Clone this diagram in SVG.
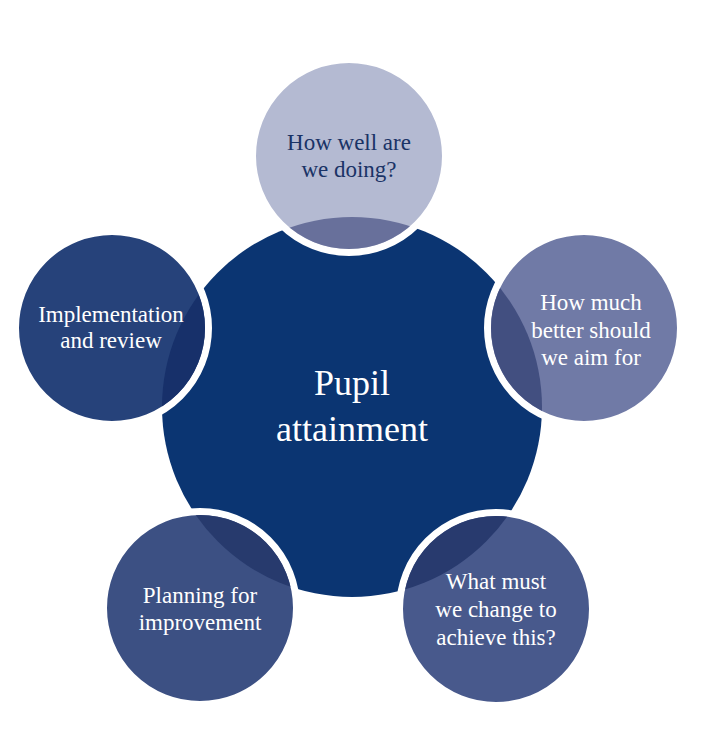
<svg xmlns="http://www.w3.org/2000/svg" width="702" height="746" viewBox="0 0 702 746">
<defs>
<style>
.ring{stroke:#ffffff;stroke-width:7}
.t{font-family:"Liberation Serif","Times New Roman",serif;font-size:23px;text-anchor:middle;fill:#ffffff}
.tc{font-family:"Liberation Serif","Times New Roman",serif;font-size:36px;text-anchor:middle;fill:#ffffff}
</style>
<clipPath id="cTop"><circle cx="349" cy="156" r="93"/></clipPath>
<clipPath id="cRight"><circle cx="584" cy="328" r="93"/></clipPath>
<clipPath id="cBR"><circle cx="496" cy="609" r="93"/></clipPath>
<clipPath id="cBL"><circle cx="200" cy="608" r="93"/></clipPath>
<clipPath id="cLeft"><circle cx="112" cy="328" r="93"/></clipPath>
</defs>
<rect width="702" height="746" fill="#ffffff"/>
<g id="center">
<circle cx="352" cy="407" r="190" fill="#0b3572"/>
<text class="tc" x="352" y="395">Pupil</text>
<text class="tc" x="352" y="441">attainment</text>
</g>
<g id="connectors"></g>
<g id="node-top">
<circle class="ring" cx="349" cy="156" r="96.5" fill="#b4bad2"/>
<circle cx="352" cy="407" r="190" fill="#68709b" clip-path="url(#cTop)"/>
<text class="t" x="349" y="150" style="fill:#1a3366">How well are</text>
<text class="t" x="349" y="177" style="fill:#1a3366">we doing?</text>
</g>
<g id="node-right">
<circle class="ring" cx="584" cy="328" r="96.5" fill="#707aa6"/>
<circle cx="352" cy="407" r="190" fill="#424f80" clip-path="url(#cRight)"/>
<text class="t" x="591" y="310">How much</text>
<text class="t" x="591" y="338">better should</text>
<text class="t" x="591" y="365">we aim for</text>
</g>
<g id="node-bottom-right">
<circle class="ring" cx="496" cy="609" r="96.5" fill="#48598c"/>
<circle cx="352" cy="407" r="190" fill="#283a6e" clip-path="url(#cBR)"/>
<text class="t" x="496" y="589">What must</text>
<text class="t" x="496" y="617">we change to</text>
<text class="t" x="496" y="645">achieve this?</text>
</g>
<g id="node-bottom-left">
<circle class="ring" cx="200" cy="608" r="96.5" fill="#3c5083"/>
<circle cx="352" cy="407" r="190" fill="#273a6d" clip-path="url(#cBL)"/>
<text class="t" x="200" y="603">Planning for</text>
<text class="t" x="200" y="630">improvement</text>
</g>
<g id="node-left">
<circle class="ring" cx="112" cy="328" r="96.5" fill="#26427a"/>
<circle cx="352" cy="407" r="190" fill="#17306a" clip-path="url(#cLeft)"/>
<text class="t" x="111" y="322">Implementation</text>
<text class="t" x="111" y="348">and review</text>
</g>
</svg>
